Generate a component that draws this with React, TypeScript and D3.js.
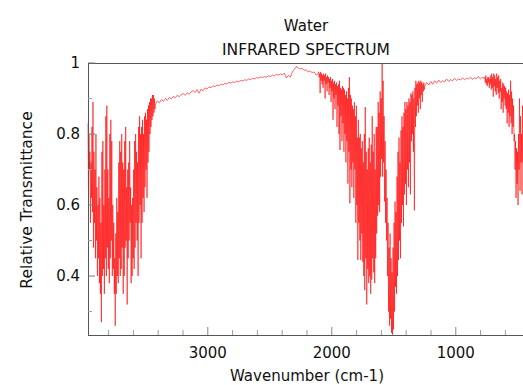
import { useEffect, useRef } from 'react'
import * as d3 from 'd3'

// Noisy bands are sampled at ~half-pixel steps as alternating high/low readings.
const OH_START = 3966
const OH_STEP = 4
const OH_BAND = [
  .83, .63, .80, .70, .75, .55, .72, .62, .82, .58, .89, .48, .75, .55, .70, .45, .80, .50, .65, .40,
  .60, .45, .68, .38, .62, .35, .55, .27, .75, .40, .78, .42, .60, .35, .70, .45, .85, .40, .88, .48,
  .70, .42, .62, .38, .80, .45, .84, .50, .78, .40, .60, .42, .55, .35, .45, .26, .52, .35, .62, .40,
  .58, .38, .72, .45, .78, .40, .75, .42, .80, .48, .72, .35, .70, .40, .78, .48, .82, .50, .65, .32,
  .70, .45, .72, .50, .78, .55, .65, .38, .60, .40, .62, .45, .70, .42, .78, .48, .80, .55, .75, .50,
  .72, .40, .82, .55, .85, .60, .80, .45, .82, .55, .84, .62, .80, .58, .85, .65, .86, .70, .84, .62,
  .87, .72, .88, .75, .89, .80, .90, .82, .90, .84, .91, .85, .91, .86, .90, .87,
]

const PLATEAU_START = 3422
const PLATEAU_STEP = 16
const PLATEAU = [
  .885, .893, .888, .897, .892, .900, .895, .903, .899, .906, .902, .909, .905, .911, .914, .909,
  .916, .912, .919, .922, .917, .925, .915, .926, .922, .930, .927, .933, .930, .936, .933, .938,
  .936, .941, .938, .943, .941, .946, .943, .947, .945, .949, .947, .951, .949, .953, .951, .955,
  .953, .957, .955, .959, .957, .961, .959, .962, .960, .964, .962, .966, .964, .968, .966, .969,
  .967, .971, .958, .965, .960, .975, .982, .990, .986, .983, .985, .979, .981, .975, .978, .972,
  .975, .966, .970,
]

const BEND_START = 2106
const BEND_STEP = 4
const BEND_BAND = [
  .975, .96, .97, .915, .975, .95, .97, .94, .965, .93, .97, .95, .965, .90, .97, .94, .96, .92,
  .965, .945, .96, .91, .955, .93, .96, .89, .95, .92, .955, .84, .945, .90, .95, .87, .94, .91,
  .945, .82, .935, .88, .94, .80, .95, .755, .93, .85, .925, .78, .935, .83, .93, .75, .925, .80,
  .91, .72, .92, .78, .90, .66, .93, .75, .96, .605, .91, .70, .90, .65, .88, .72, .87, .62,
  .89, .70, .85, .55, .88, .60, .79, .445, .84, .55, .79, .50, .80, .445, .76, .52, .78, .44,
  .72, .40, .80, .36, .876, .45, .75, .32, .70, .42, .76, .38, .79, .40, .72, .35, .77, .39,
  .85, .45, .75, .41, .80, .38, .70, .45, .82, .52, .82, .57, .89, .60, .86, .58, .92, .68,
  .90, .73, 1.0, .68, .95, .72, .85, .61, .78, .55, .70, .50, .62, .40, .55, .30, .48, .26,
  .52, .28, .45, .24, .41, .235, .48, .25, .55, .30, .61, .37, .58, .35, .68, .40, .75, .445,
  .79, .50, .72, .45, .81, .55, .85, .60, .82, .54, .86, .63, .89, .66, .87, .60, .89, .70,
  .88, .65, .90, .72, .89, .63, .915, .78, .91, .80, .92, .75, .90, .585, .93, .82, .95, .85,
  .94, .88, .945, .86, .95, .90, .945, .87, .95, .91, .945, .89, .94, .92, .945, .925,
]

const FLAT_START = 1250
const FLAT_STEP = 16
const FLAT = [
  .935, .945, .938, .948, .940, .950, .943, .952, .945, .950, .947, .955, .948, .953, .950, .957,
  .951, .955, .952, .958, .953, .957, .955, .960, .954, .958, .956, .962, .955, .960, .957,
]

const LIB_START = 766
const LIB_STEP = 4
const LIB_BAND = [
  .96, .945, .965, .94, .955, .935, .96, .945, .96, .93, .955, .94, .965, .925, .97, .93,
  .96, .905, .97, .935, .965, .92, .955, .91, .97, .93, .96, .915, .965, .90, .95, .92,
  .955, .87, .93, .89, .945, .86, .94, .90, .935, .88, .93, .87, .92, .83, .915, .86,
  .925, .82, .91, .85, .95, .83, .92, .80, .90, .82, .88, .78, .80, .70, .78, .62,
  .76, .66, .75, .60, .80, .70, .90, .64, .85, .72, .80, .63, .88, .72, .85, .70,
  .82, .68, .86, .72, .84, .70, .80, .66, .85, .72, .83, .70,
]

const X_TICKS = [3000, 2000, 1000]
const X_MINOR = [3800, 3600, 3400, 3200, 2800, 2600, 2400, 2200, 1800, 1600, 1400, 1200, 800, 600]
const Y_TICKS = [1, 0.8, 0.6, 0.4]
const Y_MINOR = [0.9, 0.7, 0.5, 0.3]

const FONT = '"DejaVu Sans", Verdana, sans-serif'

export default function App() {
  const svgRef = useRef<SVGSVGElement>(null)

  useEffect(() => {
    const svgEl = svgRef.current
    if (!svgEl) return
    const totalW = 523
    const totalH = 385
    const left = 88, top = 63, bottom = 335

    d3.select(svgEl).selectAll('*').remove()
    const svg = d3.select(svgEl).attr('width', totalW).attr('height', totalH)

    const x = d3.scaleLinear().domain([3966, 1000]).range([left, 455.8])
    const y = d3.scaleLinear().domain([0.234, 1]).range([bottom, top])

    const segs = [
      { start: OH_START, step: OH_STEP, vals: OH_BAND },
      { start: PLATEAU_START, step: PLATEAU_STEP, vals: PLATEAU },
      { start: BEND_START, step: BEND_STEP, vals: BEND_BAND },
      { start: FLAT_START, step: FLAT_STEP, vals: FLAT },
      { start: LIB_START, step: LIB_STEP, vals: LIB_BAND },
    ]
    const points: [number, number][] = []
    segs.forEach(s => s.vals.forEach((v, i) => points.push([s.start - i * s.step, v])))

    // spectrum — thin stroke so the dense spikes antialias to pink like the original
    svg.append('path')
      .datum(points)
      .attr('d', d3.line<[number, number]>().x(d => x(d[0])).y(d => y(d[1])))
      .attr('fill', 'none').attr('stroke', '#ff0000').attr('stroke-width', 0.6)

    // frame: left, top, bottom
    const axisColor = '#555'
    svg.append('line').attr('x1', left + 0.5).attr('x2', left + 0.5).attr('y1', top).attr('y2', bottom)
      .attr('stroke', axisColor)
    svg.append('line').attr('x1', left).attr('x2', totalW).attr('y1', top + 0.5).attr('y2', top + 0.5)
      .attr('stroke', axisColor)
    svg.append('line').attr('x1', left).attr('x2', totalW).attr('y1', bottom + 0.5).attr('y2', bottom + 0.5)
      .attr('stroke', axisColor)

    // x ticks (inward)
    X_TICKS.forEach(t => {
      svg.append('line').attr('x1', x(t)).attr('x2', x(t)).attr('y1', bottom).attr('y2', bottom - 8)
        .attr('stroke', '#888')
      svg.append('text').attr('x', x(t)).attr('y', 358).attr('text-anchor', 'middle')
        .attr('font-family', FONT).attr('font-size', 15).attr('fill', '#111').text(t)
    })
    X_MINOR.forEach(t => {
      svg.append('line').attr('x1', x(t)).attr('x2', x(t)).attr('y1', bottom).attr('y2', bottom - 5)
        .attr('stroke', '#999')
    })

    // y ticks (inward)
    Y_TICKS.forEach(t => {
      svg.append('line').attr('x1', left).attr('x2', left + 7).attr('y1', y(t)).attr('y2', y(t))
        .attr('stroke', '#777')
      svg.append('text').attr('x', 80).attr('y', y(t)).attr('dy', '0.36em').attr('text-anchor', 'end')
        .attr('font-family', FONT).attr('font-size', 15).attr('fill', '#111').text(t === 1 ? '1' : t.toFixed(1))
    })
    Y_MINOR.forEach(t => {
      svg.append('line').attr('x1', left).attr('x2', left + 4).attr('y1', y(t)).attr('y2', y(t))
        .attr('stroke', '#999')
    })

    // titles
    svg.append('text').attr('x', 306).attr('y', 31).attr('text-anchor', 'middle')
      .attr('font-family', FONT).attr('font-size', 15).attr('fill', '#111').text('Water')
    svg.append('text').attr('x', 306).attr('y', 55).attr('text-anchor', 'middle')
      .attr('font-family', FONT).attr('font-size', 15.5).attr('fill', '#111').text('INFRARED SPECTRUM')
    svg.append('text').attr('x', 307).attr('y', 381).attr('text-anchor', 'middle')
      .attr('font-family', FONT).attr('font-size', 15).attr('fill', '#111').text('Wavenumber (cm-1)')
    svg.append('text').attr('transform', 'rotate(-90)')
      .attr('x', -200).attr('y', 32).attr('text-anchor', 'middle')
      .attr('font-family', FONT).attr('font-size', 15.5).attr('fill', '#111').text('Relative Transmittance')
  }, [])

  return (
    <svg ref={svgRef} style={{ position: 'absolute', left: 0, top: 0, background: '#fff' }} />
  )
}
